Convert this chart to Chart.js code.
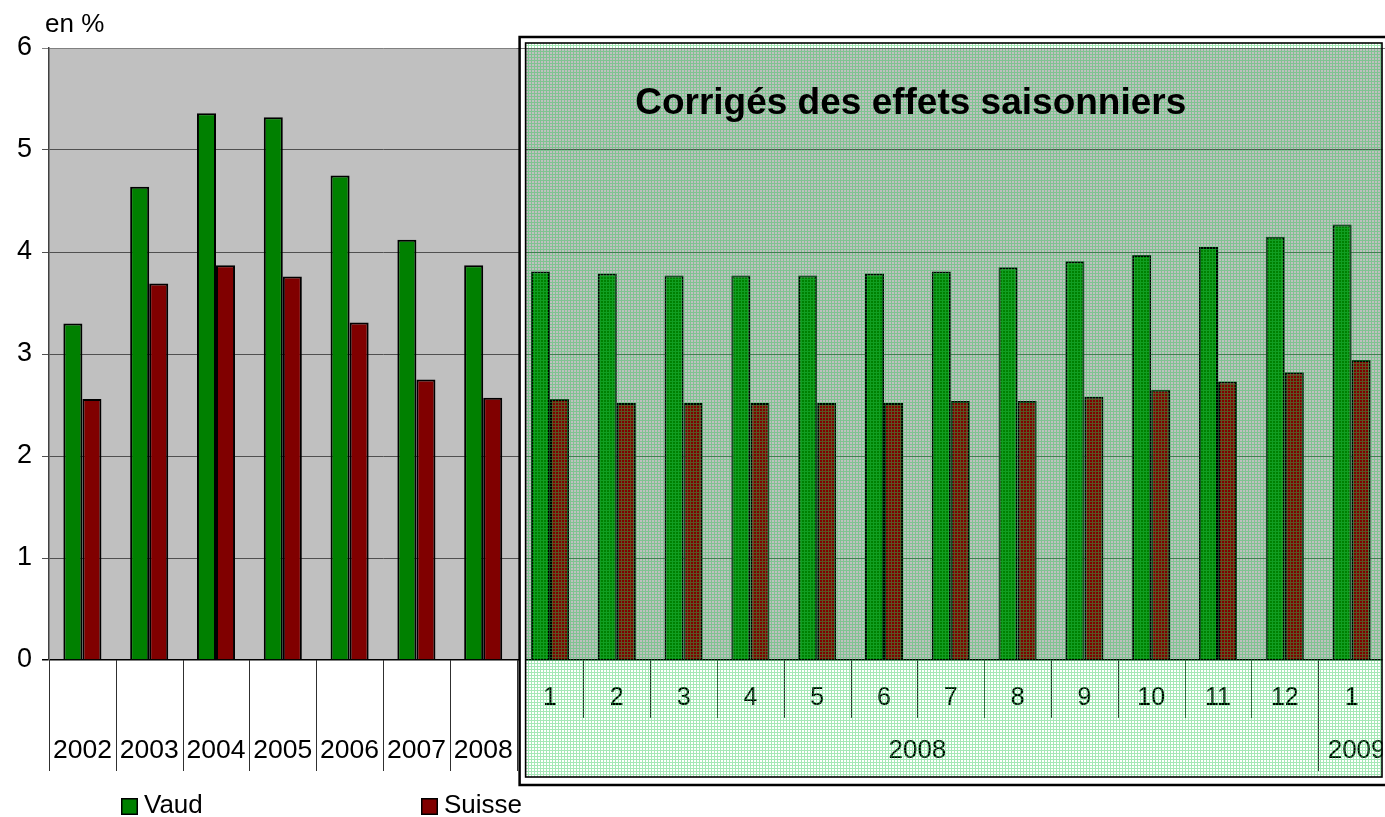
<!DOCTYPE html>
<html>
<head>
<meta charset="utf-8">
<script src="https://cdn.jsdelivr.net/npm/chart.js@4/dist/chart.umd.min.js"></script>
<style>
html,body{margin:0;padding:0;background:#fff;}
canvas{display:block;}
</style>
</head>
<body>
<canvas id="c" width="1385" height="817"></canvas>
<script>
// ---- data ----
const annualYears = ['2002','2003','2004','2005','2006','2007','2008'];
const monthLabels = ['1','2','3','4','5','6','7','8','9','10','11','12','1'];
const monthYears  = ['2008','2008','2008','2008','2008','2008','2008','2008','2008','2008','2008','2008','2009'];
const vaud   = [3.30,4.64,5.36,5.32,4.75,4.12,3.87, 3.81,3.79,3.77,3.77,3.77,3.79,3.81,3.85,3.91,3.97,4.05,4.15,4.27];
const suisse = [2.56,3.69,3.87,3.76,3.31,2.75,2.57, 2.56,2.52,2.52,2.52,2.52,2.52,2.54,2.54,2.58,2.65,2.73,2.82,2.94];
const yTicks = [0,1,2,3,4,5,6];
const seriesNames = ['Vaud','Suisse'];
const unitLabel = 'en %';
const boxTitle = 'Corrigés des effets saisonniers';

const labels = annualYears.concat(monthLabels);
const FONT = '"Liberation Sans", Arial, sans-serif';

// hatched overlay pattern
function makePattern(ctx){
  const p = document.createElement('canvas');
  p.width = 3; p.height = 3;
  const g = p.getContext('2d');
  g.fillStyle = 'rgba(40,200,80,0.42)';
  g.fillRect(0,0,3,1);
  g.fillRect(0,1,1,2);
  return ctx.createPattern(p,'repeat');
}

const decor = {
  id:'decor',
  beforeDraw(chart){
    const {ctx, chartArea:a} = chart;
    ctx.save();
    ctx.fillStyle = '#c0c0c0';
    ctx.fillRect(a.left, a.top, a.right-a.left, a.bottom-a.top);
    ctx.restore();
  },
  afterDraw(chart){
    const {ctx, chartArea:a} = chart;
    const xs = chart.scales.x;
    const n = labels.length;
    const cw = (xs.getPixelForValue(1) - xs.getPixelForValue(0));
    const nY = annualYears.length;
    const row1 = a.bottom + 38, row2 = a.bottom + 91;
    const sepShort = a.bottom + 58, sepLong = a.bottom + 111;
    ctx.save();
    // separators
    ctx.strokeStyle = '#303030';
    ctx.lineWidth = 1;
    for (let i = 0; i <= n; i++){
      const x = Math.round(xs.getPixelForValue(i) - cw/2) + 0.5;
      let y2;
      if (i <= nY) y2 = sepLong;
      else if (i < n && monthYears[i-nY] !== monthYears[i-nY-1]) y2 = sepLong;
      else if (i === n) continue;
      else y2 = sepShort;
      ctx.beginPath(); ctx.moveTo(x, a.bottom); ctx.lineTo(x, y2); ctx.stroke();
    }
    // labels
    ctx.fillStyle = '#000';
    ctx.textAlign = 'center';
    ctx.textBaseline = 'middle';
    ctx.font = '26.5px ' + FONT;
    annualYears.forEach((t,i)=>{
      ctx.fillText(t, xs.getPixelForValue(i), row2);
    });
    ctx.font = '25px ' + FONT;
    monthLabels.forEach((t,i)=>{
      ctx.fillText(t, xs.getPixelForValue(nY+i), row1);
    });
    // group labels for months
    ctx.font = '26px ' + FONT;
    let start = 0;
    for (let i = 1; i <= monthYears.length; i++){
      if (i === monthYears.length || monthYears[i] !== monthYears[start]){
        const c = (xs.getPixelForValue(nY+start) + xs.getPixelForValue(nY+i-1))/2;
        ctx.fillText(monthYears[start], c + (i === monthYears.length ? 5 : 0), row2);
        start = i;
      }
    }
    // unit label
    ctx.textAlign = 'left';
    ctx.font = '26px ' + FONT;
    ctx.fillText(unitLabel, 45, 25);

    // seasonal box
    const bx = xs.getPixelForValue(nY) - cw/2;
    const oL = bx + 3, oT = a.top - 11, oR = a.right + 3, oB = a.bottom + 125;
    const iL = bx + 9, iT = a.top - 5, iR = a.right - 3, iB = a.bottom + 117;
    // white gap frame
    ctx.strokeStyle = '#fff';
    ctx.lineWidth = 5;
    ctx.strokeRect((oL+iL)/2, (oT+iT)/2, ((oR+iR)/2)-((oL+iL)/2), ((oB+iB)/2)-((oT+iT)/2));
    // overlay
    ctx.fillStyle = makePattern(ctx);
    ctx.fillRect(iL, iT, iR-iL, iB-iT);
    // top plot border crosses box
    ctx.strokeStyle = 'rgba(90,90,90,0.8)';
    ctx.lineWidth = 1;
    ctx.beginPath(); ctx.moveTo(bx, a.top+0.5); ctx.lineTo(a.right, a.top+0.5); ctx.stroke();
    // borders
    ctx.strokeStyle = '#000';
    ctx.lineWidth = 2.5;
    ctx.strokeRect(oL, oT, oR-oL, oB-oT);
    ctx.lineWidth = 1.6;
    ctx.strokeRect(iL, iT, iR-iL, iB-iT);
    // title
    ctx.fillStyle = '#000';
    ctx.textAlign = 'center';
    ctx.textBaseline = 'middle';
    ctx.font = 'bold 37px ' + FONT;
    ctx.fillText(boxTitle, xs.getPixelForValue(12.4), chart.scales.y.getPixelForValue(5.45));

    // legend
    const lx = [121, 421];
    const ly = 798;
    ctx.font = '26px ' + FONT;
    ctx.textAlign = 'left';
    chart.data.datasets.forEach((ds,k)=>{
      ctx.fillStyle = ds.backgroundColor;
      ctx.fillRect(lx[k], ly, 17, 17);
      ctx.strokeStyle = '#000';
      ctx.lineWidth = 1.5;
      ctx.strokeRect(lx[k]+0.75, ly+0.75, 15.5, 15.5);
      ctx.fillStyle = '#000';
      ctx.fillText(ds.label, lx[k]+23, ly+8);
    });
    ctx.restore();
  }
};

new Chart(document.getElementById('c'), {
  type:'bar',
  data:{
    labels: labels,
    datasets:[
      {label: seriesNames[0], data: vaud, backgroundColor:'#008000', borderColor:'#000', borderWidth:2},
      {label: seriesNames[1], data: suisse, backgroundColor:'#800000', borderColor:'#000', borderWidth:2}
    ]
  },
  options:{
    responsive:false,
    animation:false,
    devicePixelRatio:1,
    layout:{padding:{top:48,left:0,right:0,bottom:0}},
    datasets:{bar:{categoryPercentage:0.57, barPercentage:1.0}},
    plugins:{legend:{display:false}, tooltip:{enabled:false}, title:{display:false}},
    scales:{
      x:{
        grid:{display:false},
        border:{display:false},
        ticks:{display:false},
        afterFit(s){ s.height = 157; }
      },
      y:{
        min:0, max:6,
        afterBuildTicks(s){ s.ticks = yTicks.map(v=>({value:v})); },
        ticks:{stepSize:1, color:'#000', font:{family:FONT, size:27}, padding:10},
        grid:{
          color:(c)=> c.tick && c.tick.value===0 ? '#000' : (c.tick && c.tick.value===6 ? '#808080' : '#505050'),
          lineWidth:(c)=> c.tick && c.tick.value===0 ? 1.5 : 1,
          tickLength:7
        },
        border:{display:true, color:'#404040', width:1.5},
        afterFit(s){ s.width = 49; }
      }
    }
  },
  plugins:[decor]
});
</script>
</body>
</html>
